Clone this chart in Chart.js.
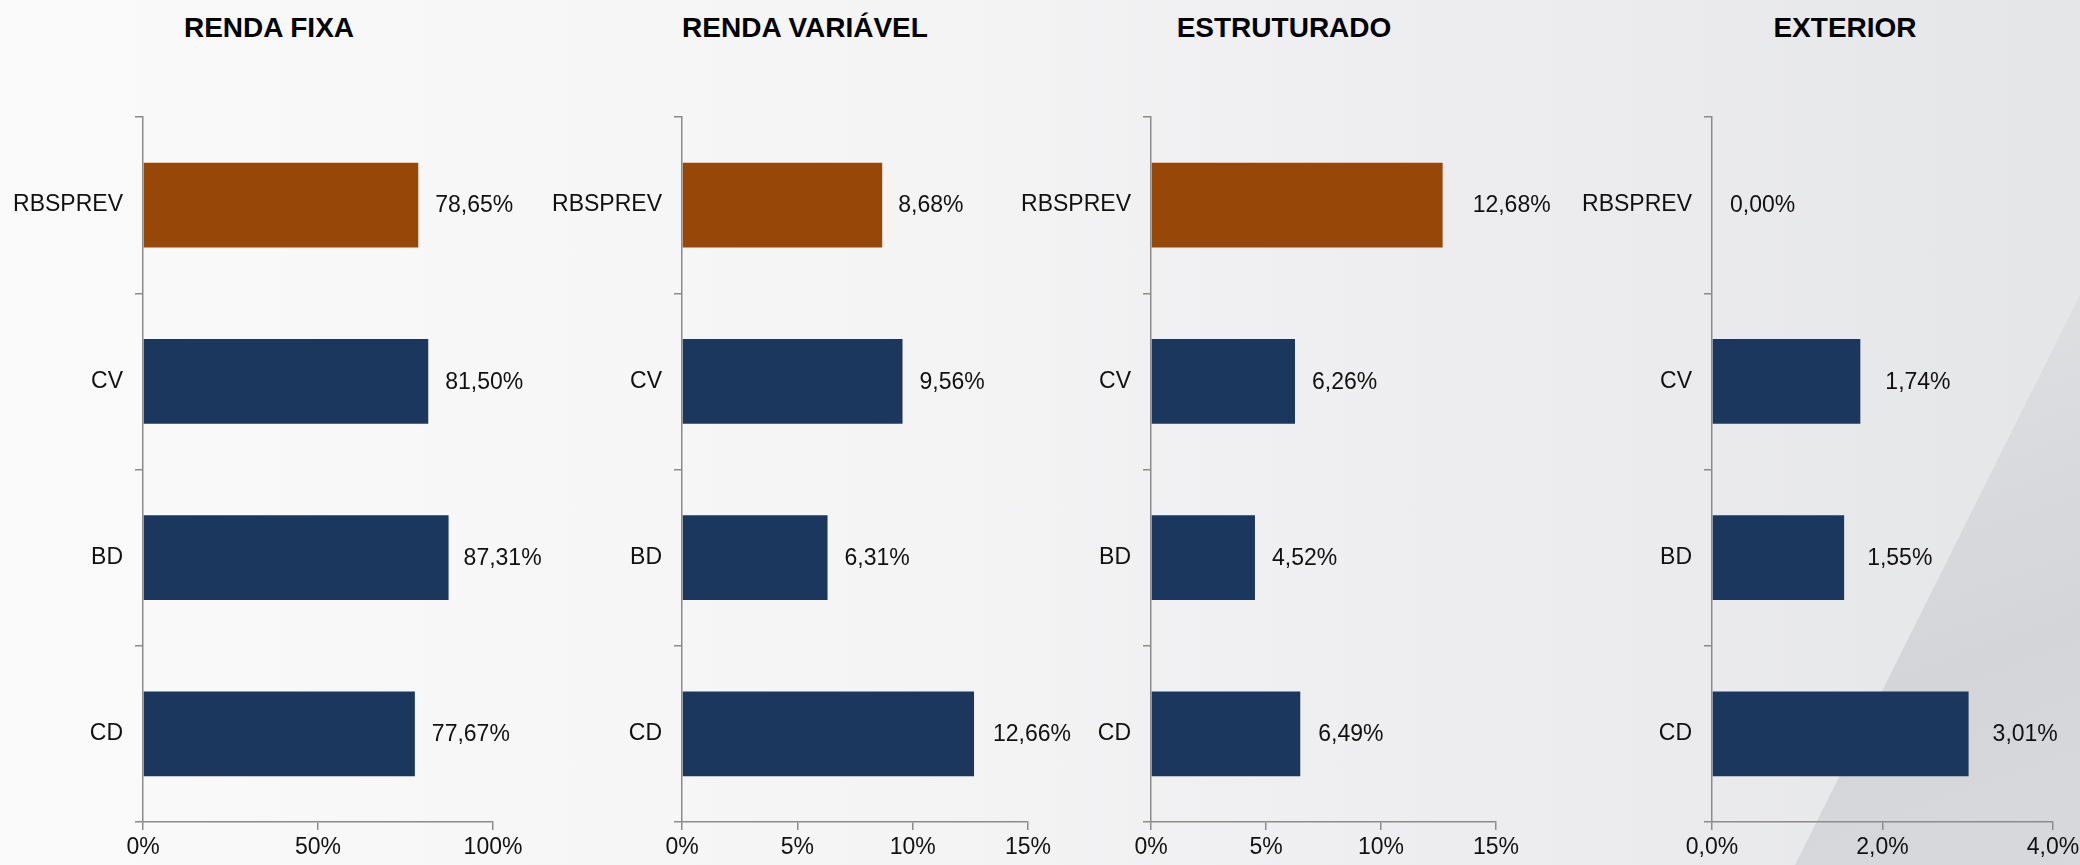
<!DOCTYPE html>
<html>
<head>
<meta charset="utf-8">
<script src="https://cdn.jsdelivr.net/npm/chart.js@4.4.1/dist/chart.umd.min.js"></script>
<style>
  html, body { margin: 0; padding: 0; }
  body {
    width: 2080px;
    height: 865px;
    overflow: hidden;
    position: relative;
    font-family: "Liberation Sans", Arial, sans-serif;
    background: linear-gradient(90deg, #fafafb 0%, #f5f5f6 40%, #ececee 75%, #e5e6e8 100%);
  }
  .swoosh {
    position: absolute;
    left: 0;
    top: 0;
    width: 2080px;
    height: 865px;
    clip-path: polygon(1795px 865px, 2080px 295px, 2080px 865px);
    background: linear-gradient(160deg, #e0e1e3 60%, #d4d5d8 85%, #d8d9dc 100%);
  }
  .panel { position: absolute; top: 0; height: 865px; }
  .title {
    position: absolute;
    top: 11px;
    width: 400px;
    text-align: center;
    font-size: 28px;
    line-height: 34px;
    font-weight: bold;
    color: #000;
  }
</style>
</head>
<body>
<div class="swoosh"></div>
<div class="title" style="left:69px">RENDA FIXA</div>
<div class="title" style="left:605px">RENDA VARIÁVEL</div>
<div class="title" style="left:1084px">ESTRUTURADO</div>
<div class="title" style="left:1645px">EXTERIOR</div>
<div class="panel" style="left:0px;width:560px"><canvas id="c1"></canvas></div>
<div class="panel" style="left:535px;width:540px"><canvas id="c2"></canvas></div>
<div class="panel" style="left:1005px;width:551px"><canvas id="c3"></canvas></div>
<div class="panel" style="left:1570px;width:545px"><canvas id="c4"></canvas></div>

<script>
// data
const categories = ["RBSPREV", "CV", "BD", "CD"];
const rendaFixa = [78.65, 81.5, 87.31, 77.67];
const rendaVariavel = [8.68, 9.56, 6.31, 12.66];
const estruturado = [12.68, 6.26, 4.52, 6.49];
const exterior = [0.0, 1.74, 1.55, 3.01];

const ticksFixa = [0, 50, 100];
const ticksVariavel = [0, 5, 10, 15];
const ticksEstruturado = [0, 5, 10, 15];
const ticksExterior = [0, 2, 4];

const FONT = '"Liberation Sans", Arial, sans-serif';
const AXIS = "#8b8b8b";
const NAVY = "#1b375e";
const BROWN = "#974809";

function pct(v, dec) {
  return v.toFixed(dec).replace(".", ",") + "%";
}

// value labels to the right of each bar
const valueLabels = {
  id: "valueLabels",
  afterDatasetsDraw(chart, args, opts) {
    const ctx = chart.ctx;
    const meta = chart.getDatasetMeta(0);
    const data = chart.data.datasets[0].data;
    ctx.save();
    ctx.font = "23px " + FONT;
    ctx.fillStyle = "#111";
    ctx.textBaseline = "middle";
    ctx.textAlign = "left";
    meta.data.forEach((bar, i) => {
      ctx.fillText(pct(data[i], 2), bar.x + opts.gaps[i], bar.y + 1);
    });
    ctx.restore();
  },
};

// axisW = distance from canvas left to the value axis
const panels = [
  { id: "c1", values: rendaFixa, ticks: ticksFixa, dec: 0, axisW: 143, padRight: 67, gaps: [17, 17, 15, 17] },
  { id: "c2", values: rendaVariavel, ticks: ticksVariavel, dec: 0, axisW: 147, padRight: 47, gaps: [16, 17, 17, 19] },
  { id: "c3", values: estruturado, ticks: ticksEstruturado, dec: 0, axisW: 146, padRight: 60, gaps: [30, 17, 17, 18] },
  { id: "c4", values: exterior, ticks: ticksExterior, dec: 1, axisW: 142, padRight: 62, gaps: [18, 25, 23, 24] },
];

panels.forEach((p) => {
  new Chart(document.getElementById(p.id), {
    type: "bar",
    data: {
      labels: categories,
      datasets: [
        {
          data: p.values,
          backgroundColor: categories.map((c, i) => (i === 0 ? BROWN : NAVY)),
          categoryPercentage: 1,
          barPercentage: 0.48,
        },
      ],
    },
    options: {
      indexAxis: "y",
      responsive: true,
      maintainAspectRatio: false,
      animation: false,
      layout: { padding: { top: 117, right: p.padRight, bottom: 0, left: 0 } },
      plugins: {
        legend: { display: false },
        tooltip: { enabled: false },
        valueLabels: { gaps: p.gaps },
      },
      scales: {
        x: {
          min: p.ticks[0],
          max: p.ticks[p.ticks.length - 1],
          afterBuildTicks: (scale) => {
            scale.ticks = p.ticks.map((v) => ({ value: v }));
          },
          afterFit: (scale) => {
            scale.height = 43;
          },
          grid: {
            drawOnChartArea: false,
            drawTicks: true,
            tickLength: 8,
            color: AXIS,
            lineWidth: 1.5,
          },
          border: { display: true, color: AXIS, width: 1.5 },
          ticks: {
            color: "#111",
            padding: 4,
            maxRotation: 0,
            font: { family: FONT, size: 23 },
            callback: (v) => pct(v, p.dec),
          },
        },
        y: {
          afterFit: (scale) => {
            scale.width = p.axisW;
          },
          grid: {
            drawOnChartArea: false,
            drawTicks: true,
            tickLength: 8,
            color: AXIS,
            lineWidth: 1.5,
          },
          border: { display: true, color: AXIS, width: 1.5 },
          ticks: {
            color: "#111",
            padding: 12,
            font: { family: FONT, size: 23 },
          },
        },
      },
    },
    plugins: [valueLabels],
  });
});
</script>
</body>
</html>
